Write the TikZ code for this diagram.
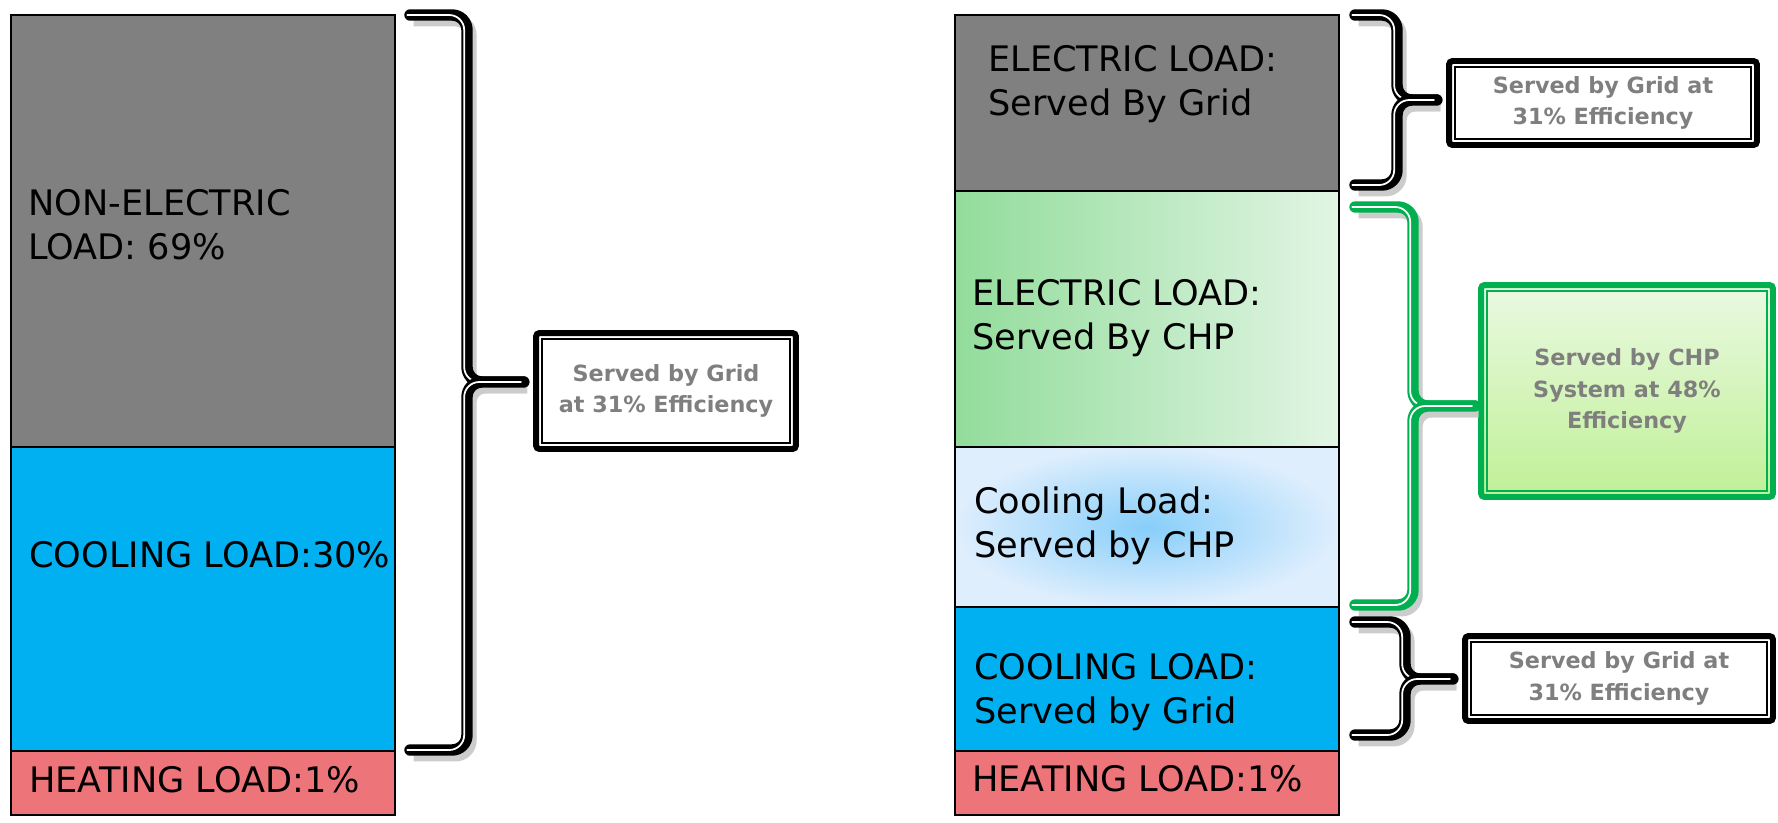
\documentclass[tikz,border=0pt]{standalone}
\usepackage{fontspec}
\setmainfont{DejaVu Sans}
\usepackage{xcolor}
\usetikzlibrary{positioning}
\definecolor{loadgray}{RGB}{128,128,128}
\definecolor{coolblue}{RGB}{0,176,240}
\definecolor{heatred}{RGB}{237,117,122}
\definecolor{chpgreen}{RGB}{146,220,155}
\definecolor{chplight}{RGB}{226,245,228}
\definecolor{coolin}{RGB}{135,206,250}
\definecolor{coolout}{RGB}{222,238,253}
\definecolor{boxgreen}{RGB}{0,176,80}
\definecolor{gbtop}{RGB}{234,249,226}
\definecolor{gbbot}{RGB}{192,240,150}
\definecolor{txtgray}{RGB}{127,127,127}

\begin{document}
\begin{tikzpicture}[
  x=0.02cm, y=-0.02cm,
  font=\fontsize{20}{25}\selectfont,
  bar/.style={draw, line width=1.1pt, minimum width=7.68cm, inner sep=0pt, outer sep=0pt},
  lbl/.style={anchor=west, align=left, inner sep=0pt},
  effbox/.style={draw, line width=3.4pt, rounded corners=2pt, fill=white, align=center, outer sep=0pt,
                 text=txtgray, inner sep=0pt, font=\bfseries\fontsize{12.7}{18}\selectfont},
  inframe/.style={draw=black, line width=1pt},
  brc/.style={line width=6.5pt, rounded corners=0.3cm, line cap=round, line join=round,
              shorten >=7pt,
              preaction={draw=black!20, line width=7pt, transform canvas={shift={(2pt,-3pt)}}},
              postaction={draw=white, line width=1pt, transform canvas={shift={(-1.6pt,0pt)}}}}
]
\useasboundingbox (0,0) rectangle (1778,822);
\fill[white] (0,0) rectangle (1778,822);

% left column
\node[bar, fill=loadgray, minimum height=8.64cm, anchor=north west] (nonel) at (11,15) {};
\node[bar, fill=coolblue, minimum height=6.08cm, below=0 of nonel] (coolL) {};
\node[bar, fill=heatred, minimum height=1.28cm, below=0 of coolL] (heatL) {};
\node[lbl] (noneltxt) at (28,225) {NON-ELECTRIC\\LOAD: 69\%};
\node[lbl] (coolLtxt) at (29,555) {COOLING LOAD:30\%};
\node[lbl] (heatLtxt) at (29,780) {HEATING LOAD:1\%};

% right column
\node[bar, fill=loadgray, minimum height=3.52cm, anchor=north west] (elgrid) at (955,15) {};
\node[bar, left color=chpgreen, right color=chplight, minimum height=5.12cm, below=0 of elgrid] (elchp) {};
\node[bar, inner color=coolin, outer color=coolout, minimum height=3.2cm, below=0 of elchp] (coolchp) {};
\node[bar, fill=coolblue, minimum height=2.88cm, below=0 of coolchp] (coolgrid) {};
\node[bar, fill=heatred, minimum height=1.28cm, below=0 of coolgrid] (heatR) {};
\node[lbl] (elgridtxt) at (988,84) {ELECTRIC LOAD:\\Served By Grid};
\node[lbl] (elchptxt) at (972,318) {ELECTRIC LOAD:\\Served By CHP};
\node[lbl] (coolchptxt) at (974,526) {Cooling Load:\\Served by CHP};
\node[lbl] (coolgridtxt) at (974,692) {COOLING LOAD:\\Served by Grid};
\node[lbl] (heatRtxt) at (972,779) {HEATING LOAD:1\%};

% efficiency boxes
\node[effbox, minimum width=5.2cm, minimum height=2.32cm] (lbox) at (666,391) {Served by Grid\\at 31\% Efficiency};
\node[effbox, minimum width=6.16cm, minimum height=1.68cm] (tbox) at (1603,103) {Served by Grid at\\31\% Efficiency};
\node[effbox, draw=boxgreen, top color=gbtop, bottom color=gbbot, minimum width=5.84cm,
      minimum height=4.24cm] (gbox) at (1627,391) {Served by CHP\\System at 48\%\\Efficiency};
\node[effbox, minimum width=6.16cm, minimum height=1.7cm] (bbox) at (1619,678.5) {Served by Grid at\\31\% Efficiency};
\draw[inframe] ([xshift=3.4pt,yshift=-3.4pt]lbox.north west) rectangle ([xshift=-3.4pt,yshift=3.4pt]lbox.south east);
\draw[inframe] ([xshift=3.4pt,yshift=-3.4pt]tbox.north west) rectangle ([xshift=-3.4pt,yshift=3.4pt]tbox.south east);
\draw[inframe, draw=boxgreen] ([xshift=3.4pt,yshift=-3.4pt]gbox.north west) rectangle ([xshift=-3.4pt,yshift=3.4pt]gbox.south east);
\draw[inframe] ([xshift=3.4pt,yshift=-3.4pt]bbox.north west) rectangle ([xshift=-3.4pt,yshift=3.4pt]bbox.south east);

% braces
\coordinate (lbtop) at (410,15);
\coordinate (lbbot) at (410,750);
\coordinate (lbmid) at (467,382);
\draw[brc] (lbtop) -- (lbtop -| lbmid) -- (lbmid) -- (lbox.west |- lbmid);
\draw[brc] (lbbot) -- (lbbot -| lbmid) -- (lbmid) -- (lbox.west |- lbmid);

\coordinate (tbtop) at (1355,15);
\coordinate (tbbot) at (1355,185);
\coordinate (tbmid) at (1397,100);
\draw[brc] (tbtop) -- (tbtop -| tbmid) -- (tbmid) -- (tbox.west |- tbmid);
\draw[brc] (tbbot) -- (tbbot -| tbmid) -- (tbmid) -- (tbox.west |- tbmid);

\coordinate (gbtop) at (1355,207);
\coordinate (gbbot) at (1355,605);
\coordinate (gbmid) at (1413,406);
\draw[brc, draw=boxgreen, shorten >=3.5pt] (gbtop) -- (gbtop -| gbmid) -- (gbmid) -- (gbox.west |- gbmid);
\draw[brc, draw=boxgreen, shorten >=3.5pt] (gbbot) -- (gbbot -| gbmid) -- (gbmid) -- (gbox.west |- gbmid);

\coordinate (bbtop) at (1355,622);
\coordinate (bbbot) at (1355,735);
\coordinate (bbmid) at (1405,679);
\draw[brc] (bbtop) -- (bbtop -| bbmid) -- (bbmid) -- (bbox.west |- bbmid);
\draw[brc] (bbbot) -- (bbbot -| bbmid) -- (bbmid) -- (bbox.west |- bbmid);
\end{tikzpicture}
\end{document}
